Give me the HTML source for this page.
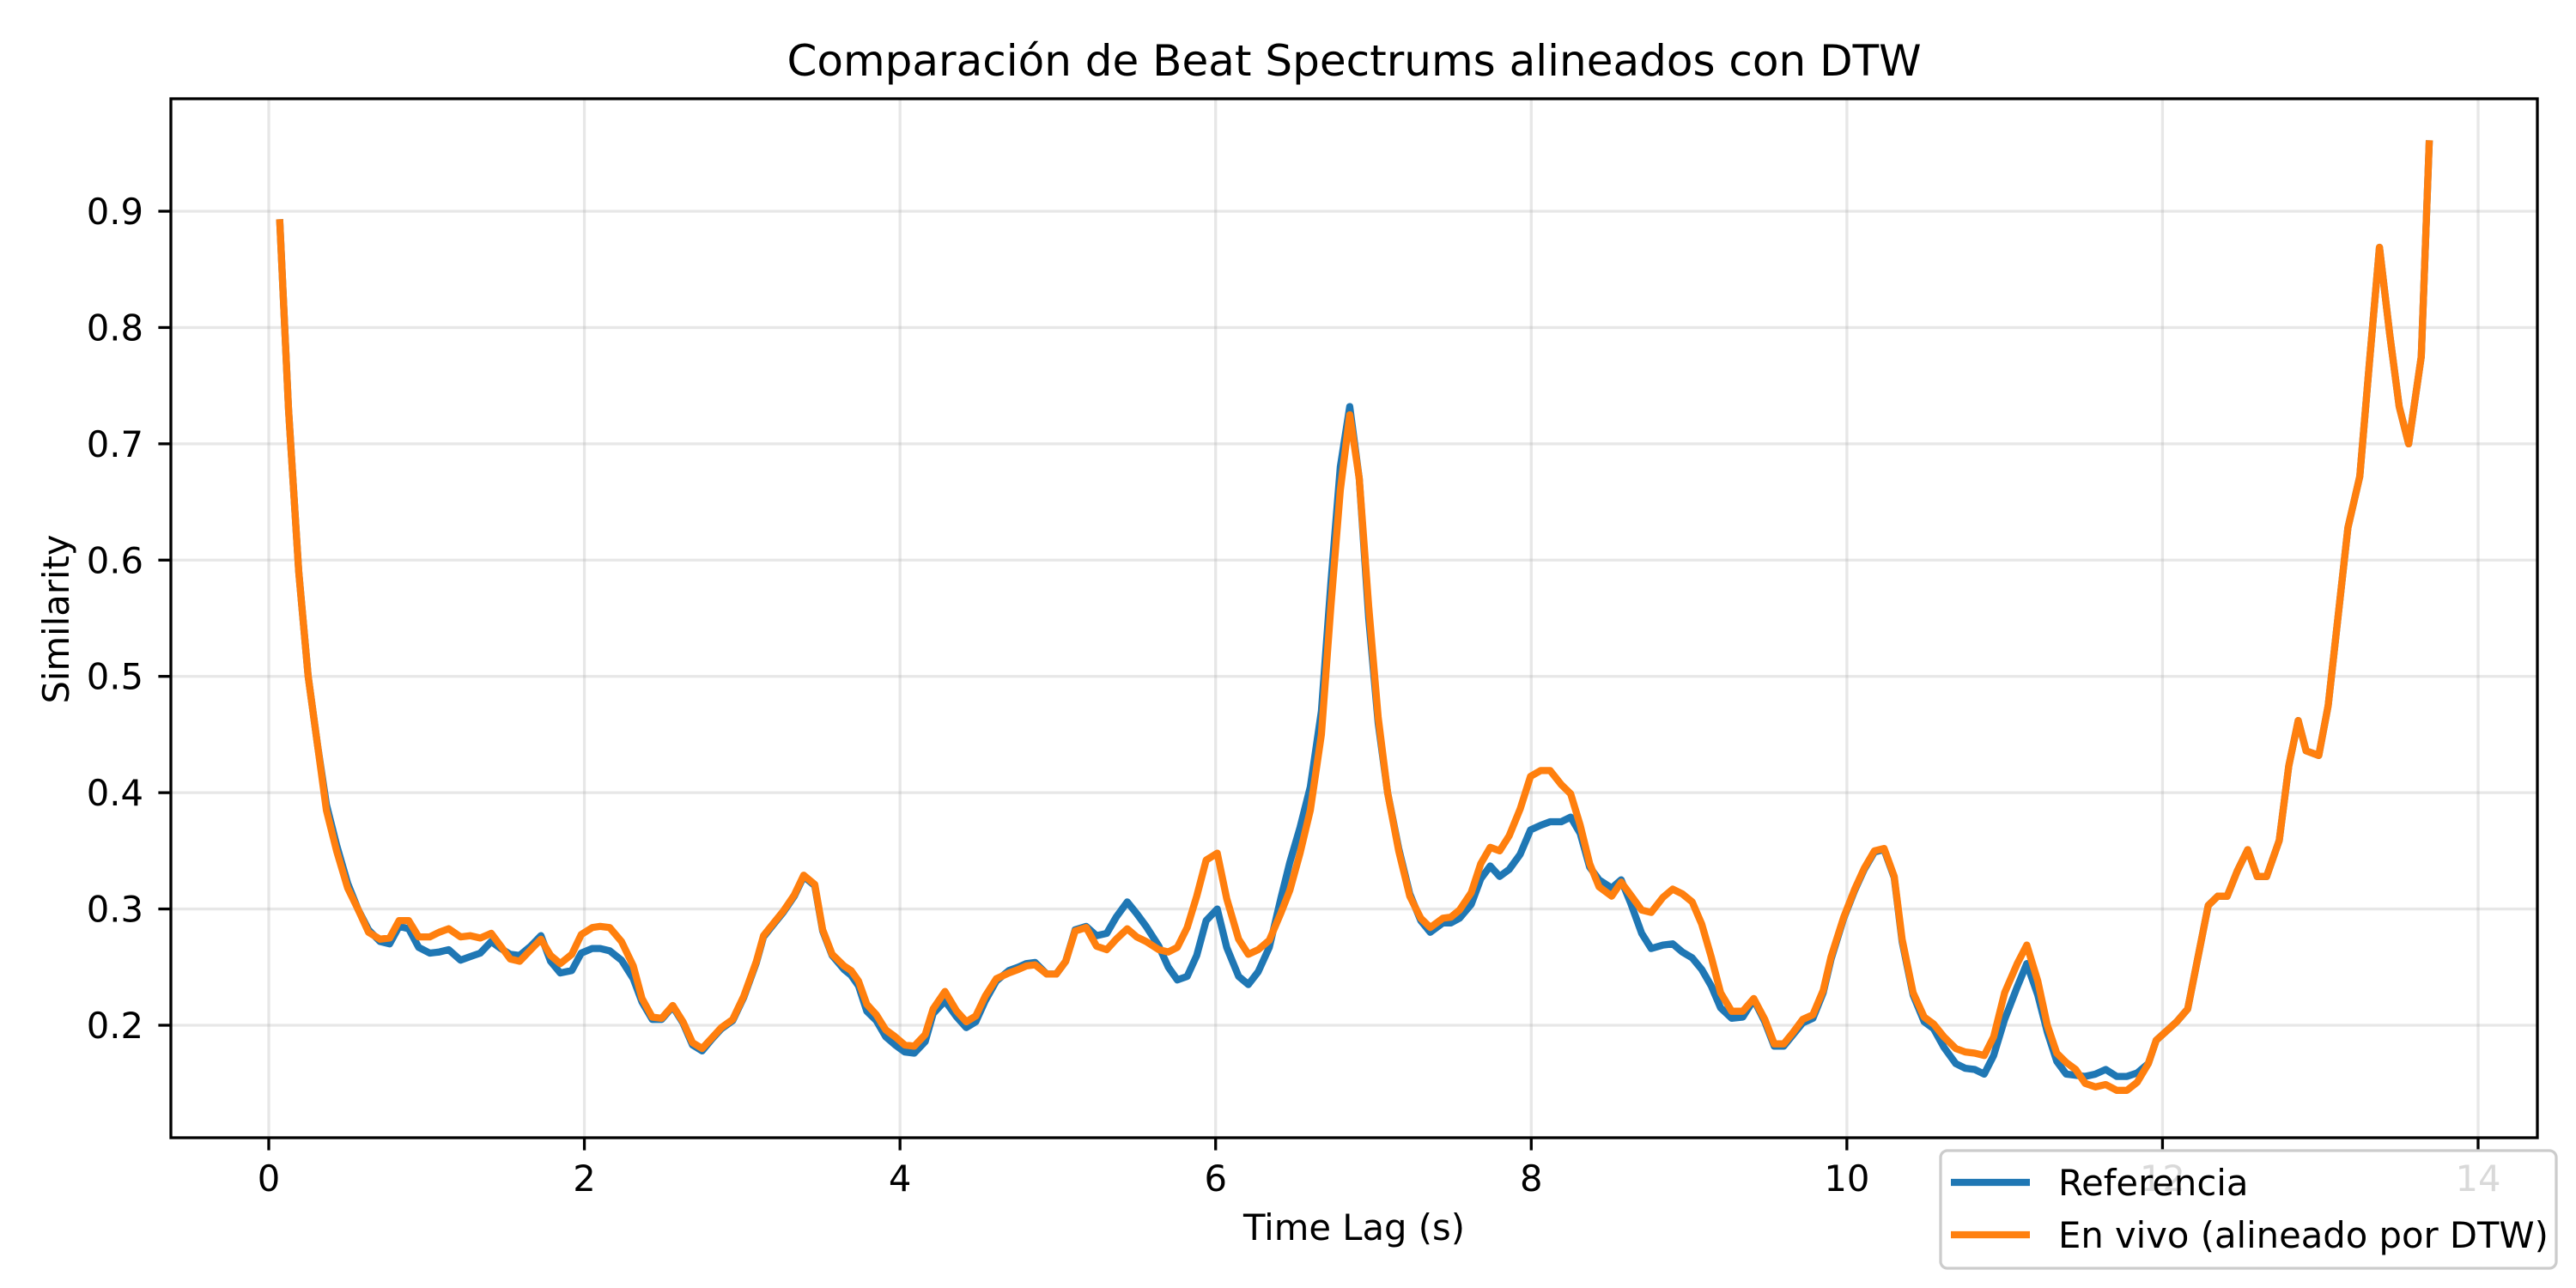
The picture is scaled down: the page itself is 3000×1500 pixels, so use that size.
<!DOCTYPE html>
<html><head><meta charset="utf-8"><style>
html,body{margin:0;padding:0;background:#fff;}
svg{display:block;}
text{font-family:"DejaVu Sans","Liberation Sans",sans-serif;fill:#000;}
</style></head><body>
<svg id="chart" width="3000" height="1500" viewBox="0 0 3000 1500" xmlns="http://www.w3.org/2000/svg">
<rect x="0" y="0" width="3000" height="1500" fill="#fff"/>
<g id="grid"></g>
<g id="series"></g>
<rect x="199" y="115" width="2756" height="1210" fill="none" stroke="#000" stroke-width="3.3"/>
<g id="ticks"></g>
<text x="1577" y="88" font-size="50" text-anchor="middle">Comparación de Beat Spectrums alineados con DTW</text>
<text x="1577" y="1444" font-size="41.7" text-anchor="middle">Time Lag (s)</text>
<text x="0" y="0" font-size="41.7" text-anchor="middle" transform="translate(80,721) rotate(-90)">Similarity</text>
<g>
<rect x="2260" y="1340" width="717" height="137" rx="8" fill="#fff" fill-opacity="0.85" stroke="#cccccc" stroke-width="3.3"/>
<line x1="2272" y1="1377" x2="2364" y2="1377" stroke="#1f77b4" stroke-width="8.3"/>
<text x="2397" y="1392" font-size="41.7">Referencia</text>
<line x1="2272" y1="1438" x2="2364" y2="1438" stroke="#ff7f0e" stroke-width="8.3"/>
<text x="2397" y="1453" font-size="41.7">En vivo (alineado por DTW)</text>
</g>
</svg>
<script>
const times = [0.07,0.125,0.19,0.25,0.31,0.365,0.43,0.50,0.565,0.632,0.705,0.766,0.826,0.887,0.95,1.02,1.08,1.14,1.215,1.276,1.34,1.41,1.47,1.53,1.59,1.66,1.725,1.786,1.847,1.92,1.98,2.05,2.10,2.16,2.235,2.31,2.365,2.43,2.49,2.56,2.625,2.685,2.746,2.807,2.868,2.94,3.01,3.09,3.135,3.2,3.26,3.33,3.39,3.46,3.51,3.57,3.645,3.69,3.737,3.79,3.85,3.91,3.97,4.03,4.09,4.16,4.21,4.285,4.36,4.42,4.48,4.54,4.61,4.69,4.75,4.8,4.856,4.93,4.99,5.05,5.11,5.18,5.245,5.31,5.37,5.44,5.5,5.56,5.64,5.70,5.757,5.82,5.88,5.94,6.01,6.07,6.146,6.207,6.27,6.34,6.415,6.47,6.535,6.6,6.67,6.73,6.79,6.85,6.91,6.97,7.03,7.09,7.16,7.23,7.3,7.36,7.44,7.49,7.545,7.62,7.68,7.74,7.80,7.86,7.93,7.995,8.06,8.12,8.19,8.25,8.31,8.37,8.43,8.51,8.57,8.63,8.70,8.76,8.835,8.896,8.957,9.02,9.08,9.14,9.2,9.27,9.34,9.41,9.48,9.54,9.6,9.66,9.72,9.785,9.85,9.9,9.98,10.05,10.11,10.175,10.236,10.3,10.35,10.42,10.49,10.55,10.615,10.69,10.75,10.81,10.87,10.93,11.0,11.08,11.14,11.21,11.27,11.33,11.39,11.45,11.51,11.575,11.64,11.71,11.775,11.84,11.91,11.96,12.025,12.09,12.16,12.29,12.35,12.41,12.475,12.54,12.6,12.66,12.74,12.8,12.86,12.91,12.99,13.05,13.11,13.175,13.25,13.31,13.375,13.44,13.5,13.56,13.64,13.69];
const referencia = [.89,.73,.59,.50,.44,.39,.355,.322,.30,.282,.272,.27,.285,.283,.267,.262,.263,.265,.256,.259,.262,.272,.266,.261,.26,.268,.277,.255,.245,.247,.262,.266,.266,.264,.256,.24,.22,.205,.205,.216,.202,.183,.178,.188,.197,.204,.224,.254,.276,.287,.297,.311,.328,.32,.281,.26,.248,.243,.234,.212,.204,.19,.183,.177,.176,.186,.21,.221,.207,.198,.203,.221,.238,.247,.25,.253,.254,.244,.244,.255,.282,.285,.277,.279,.293,.306,.296,.285,.268,.25,.239,.242,.26,.29,.30,.267,.242,.235,.246,.267,.31,.34,.37,.405,.47,.58,.68,.732,.67,.55,.46,.40,.352,.313,.29,.28,.288,.288,.292,.304,.326,.337,.328,.334,.347,.368,.372,.375,.375,.379,.365,.336,.325,.318,.325,.305,.279,.266,.269,.27,.263,.258,.248,.234,.215,.206,.207,.222,.203,.182,.182,.192,.202,.206,.228,.257,.292,.316,.334,.349,.351,.327,.272,.226,.203,.197,.181,.167,.163,.162,.158,.174,.205,.233,.253,.226,.194,.169,.158,.157,.156,.158,.162,.156,.156,.159,.167,.187,.195,.203,.214,.303,.311,.311,.333,.351,.328,.328,.359,.423,.462,.436,.432,.475,.548,.628,.672,.768,.869,.794,.732,.70,.775,.958];
const enVivo = [.89,.73,.59,.50,.44,.385,.35,.318,.30,.28,.274,.275,.29,.29,.276,.276,.28,.283,.276,.277,.275,.279,.268,.257,.255,.265,.274,.26,.253,.261,.278,.284,.285,.284,.272,.251,.223,.207,.206,.217,.203,.185,.18,.189,.198,.205,.225,.255,.277,.288,.298,.312,.329,.321,.282,.261,.251,.247,.238,.218,.209,.196,.19,.183,.182,.192,.214,.229,.212,.203,.208,.225,.24,.245,.248,.251,.252,.244,.244,.255,.281,.284,.268,.265,.274,.283,.276,.272,.265,.263,.267,.284,.311,.342,.348,.309,.274,.261,.265,.273,.297,.316,.348,.385,.45,.56,.66,.725,.67,.56,.465,.40,.35,.311,.292,.284,.292,.293,.299,.314,.339,.353,.35,.363,.386,.414,.419,.419,.407,.399,.372,.339,.319,.311,.323,.312,.299,.297,.31,.317,.313,.306,.287,.259,.228,.212,.212,.223,.205,.184,.184,.194,.205,.209,.23,.259,.293,.317,.335,.35,.352,.328,.274,.228,.207,.201,.19,.18,.177,.176,.174,.19,.228,.253,.269,.238,.2,.176,.168,.162,.15,.147,.149,.144,.144,.151,.167,.187,.195,.203,.214,.303,.311,.311,.333,.351,.328,.328,.359,.423,.462,.436,.432,.475,.548,.628,.672,.768,.869,.794,.732,.70,.775,.958];
const xTickValues = [0,2,4,6,8,10,12,14];
const xTickLabels = ["0","2","4","6","8","10","12","14"];
const yTickValues = [0.2,0.3,0.4,0.5,0.6,0.7,0.8,0.9];
const yTickLabels = ["0.2","0.3","0.4","0.5","0.6","0.7","0.8","0.9"];

const NS = "http://www.w3.org/2000/svg";
const L = 199, R = 2955, T = 115, B = 1325;
function xs(t){ return 313 + t * (2886 - 313) / 14; }
function ys(v){ return 1194 - (v - 0.2) * (1194 - 246) / 0.7; }
function mk(tag, attrs, parent){ const e = document.createElementNS(NS, tag); for (const k in attrs) e.setAttribute(k, attrs[k]); parent.appendChild(e); return e; }

const grid = document.getElementById('grid');
const ticks = document.getElementById('ticks');
xTickValues.forEach((v, i) => {
  const x = xs(v);
  const g = mk('line', {x1:x, y1:T, x2:x, y2:B, stroke:'#b0b0b0', 'stroke-opacity':'0.3', 'stroke-width':'3.3'}, grid);
  
  
  const tk = mk('line', {x1:x, y1:B, x2:x, y2:B+14.6, stroke:'#000', 'stroke-width':'3.3'}, ticks);
  
  
  const tx = mk('text', {x:x, y:1387, 'font-size':'41.7', 'text-anchor':'middle'}, ticks);
  tx.textContent = xTickLabels[i];
  
  
});
yTickValues.forEach((v, i) => {
  const y = ys(v);
  const g = mk('line', {x1:L, y1:y, x2:R, y2:y, stroke:'#b0b0b0', 'stroke-opacity':'0.3', 'stroke-width':'3.3'}, grid);
  
  
  const tk = mk('line', {x1:L-14.6, y1:y, x2:L, y2:y, stroke:'#000', 'stroke-width':'3.3'}, ticks);
  
  
  const tx = mk('text', {x:167, y:y+15, 'font-size':'41.7', 'text-anchor':'end'}, ticks);
  tx.textContent = yTickLabels[i];
  
  
});

const series = document.getElementById('series');
function pathFor(vals){ return vals.map((v, i) => (i ? 'L' : 'M') + xs(times[i]).toFixed(1) + ',' + ys(v).toFixed(1)).join(' '); }
const p1 = mk('path', {d:pathFor(referencia), fill:'none', stroke:'#1f77b4', 'stroke-width':'8.3', 'stroke-linejoin':'round', 'stroke-linecap':'square'}, series);


const p2 = mk('path', {d:pathFor(enVivo), fill:'none', stroke:'#ff7f0e', 'stroke-width':'8.3', 'stroke-linejoin':'round', 'stroke-linecap':'square'}, series);


</script>
</body></html>
